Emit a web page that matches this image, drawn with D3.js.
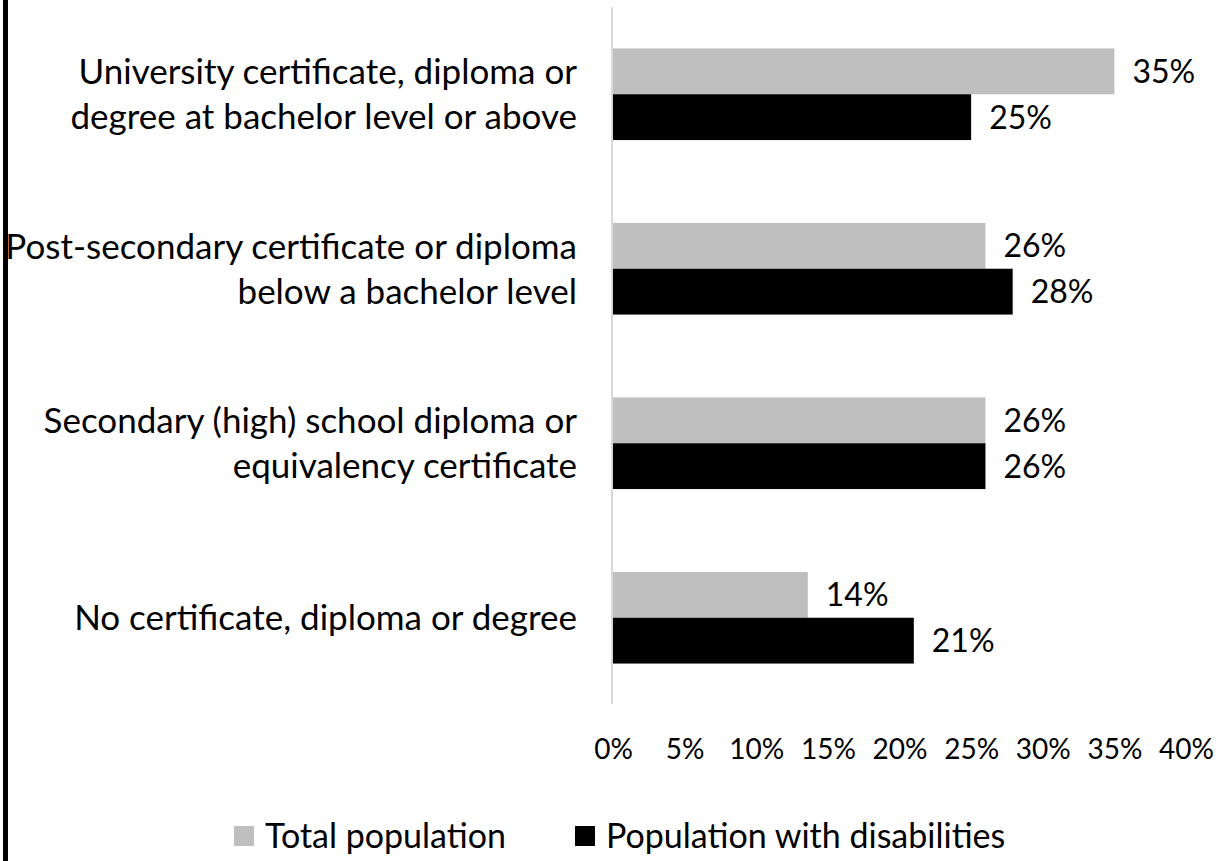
<!DOCTYPE html>
<html>
<head>
<meta charset="utf-8">
<script src="https://cdn.jsdelivr.net/npm/d3@7.9.0/dist/d3.min.js"></script>
<style>
  body { margin: 0; background: #fff; }
  text { font-family: Lato, "Open Sans", sans-serif; fill: #000; }
</style>
</head>
<body>
<div id="chart"></div>
<script>
// data
const categories = [
    ['University certificate, diploma or', 'degree at bachelor level or above'],
    ['Post-secondary certificate or diploma', 'below a bachelor level'],
    ['Secondary (high) school diploma or', 'equivalency certificate'],
    ['No certificate, diploma or degree']
];
const totalPopulation = [35, 26, 26, 13.6];
const withDisabilities = [25, 27.9, 26, 21];
const seriesNames = ['Total population', 'Population with disabilities'];
const xTicks = [0, 5, 10, 15, 20, 25, 30, 35, 40];

const width = 1225;
const height = 861;

const svg = d3.select('#chart')
    .append('svg')
    .attr('width', width)
    .attr('height', height);

// black border strip on the left edge
svg.append('rect')
    .attr('x', 3)
    .attr('y', 0)
    .attr('width', 5)
    .attr('height', height)
    .attr('fill', '#000');

const xScale = d3.scaleLinear().domain([0, 40]).range([613, 1186]);

const yScale = d3.scaleBand()
    .domain(d3.range(categories.length))
    .range([7, 705])
    .paddingInner(0.475)
    .paddingOuter(0.2375);

const inner = d3.scaleBand()
    .domain([0, 1])
    .range([0, yScale.bandwidth()]);

const colors = ['#bfbfbf', '#000000'];

const rows = categories.map((c, i) => ({
    i,
    label: c,
    values: [totalPopulation[i], withDisabilities[i]]
}));

// bars
const groups = svg.append('g')
    .selectAll('g')
    .data(rows)
    .enter()
    .append('g')
    .attr('transform', d => `translate(0, ${yScale(d.i)})`);

groups.selectAll('rect')
    .data(d => d.values.map((v, s) => ({ v, s })))
    .enter()
    .append('rect')
    .attr('x', xScale(0))
    .attr('y', d => inner(d.s))
    .attr('width', d => xScale(d.v) - xScale(0))
    .attr('height', inner.bandwidth())
    .attr('fill', d => colors[d.s]);

// value labels
groups.selectAll('text.value')
    .data(d => d.values.map((v, s) => ({ v, s })))
    .enter()
    .append('text')
    .attr('class', 'value')
    .attr('x', d => xScale(d.v) + 18)
    .attr('y', d => inner(d.s) + inner.bandwidth() / 2)
    .attr('dy', '0.36em')
    .attr('font-size', '32px')
    .text(d => `${Math.round(d.v)}%`);

// vertical axis line
svg.append('line')
    .attr('x1', 612)
    .attr('x2', 612)
    .attr('y1', 7)
    .attr('y2', 704)
    .attr('stroke', '#d9d9d9')
    .attr('stroke-width', 2);

// category labels
const catLabels = svg.append('g')
    .selectAll('text')
    .data(rows)
    .enter()
    .append('text')
    .attr('text-anchor', 'end')
    .attr('font-size', '35px')
    .attr('y', d => yScale(d.i) + yScale.bandwidth() / 2);

catLabels.selectAll('tspan')
    .data(d => d.label.map((t, k) => ({ t, k, n: d.label.length })))
    .enter()
    .append('tspan')
    .attr('x', 577)
    .attr('dy', d => d.k === 0 ? `${0.36 - (d.n - 1) * 0.64}em` : '1.28em')
    .text(d => d.t);

// x axis tick labels
const xAxis = d3.axisBottom(xScale)
    .tickValues(xTicks)
    .tickSize(0)
    .tickPadding(0)
    .tickFormat(d => `${d}%`);

svg.append('g')
    .attr('transform', 'translate(0, 749)')
    .call(xAxis)
    .call(g => g.select('.domain').remove())
    .call(g => g.selectAll('text')
        .attr('font-size', '28px')
        .attr('y', 0)
        .attr('dy', '0.36em')
        .attr('fill', '#000')
        .style('font-family', 'Lato, sans-serif'));

// legend
const legendPos = [234, 575];
const legend = svg.append('g')
    .selectAll('g')
    .data(seriesNames)
    .enter()
    .append('g')
    .attr('transform', (d, i) => `translate(${legendPos[i]}, 836)`);

legend.append('rect')
    .attr('x', 0)
    .attr('y', -10)
    .attr('width', 20)
    .attr('height', 20)
    .attr('fill', (d, i) => colors[i]);

legend.append('text')
    .attr('x', 31)
    .attr('y', 0)
    .attr('dy', '0.36em')
    .attr('font-size', '34px')
    .text(d => d);
</script>
</body>
</html>
